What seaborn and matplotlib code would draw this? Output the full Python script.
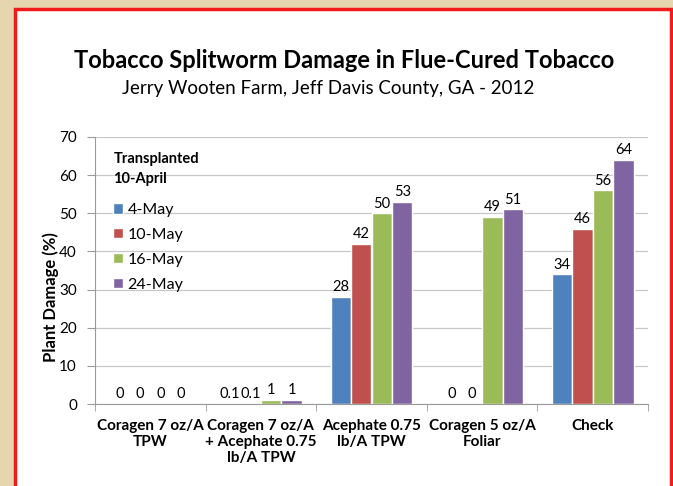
import pandas as pd
import matplotlib.pyplot as plt
import seaborn as sns
from matplotlib.patches import Rectangle

# Data
treatments = ['Coragen 7 oz/A\nTPW', 'Coragen 7 oz/A\n+ Acephate 0.75\nlb/A TPW',
              'Acephate 0.75\nlb/A TPW', 'Coragen 5 oz/A\nFoliar', 'Check']
dates = ['4-May', '10-May', '16-May', '24-May']
may4 = [0, 0.1, 28, 0, 34]
may10 = [0, 0.1, 42, 0, 46]
may16 = [0, 1, 50, 49, 56]
may24 = [0, 1, 53, 51, 64]
colors = ['#4F81BD', '#C0504D', '#9BBB59', '#8064A2']

rows = []
for d, vals in zip(dates, [may4, may10, may16, may24]):
    for t, v in zip(treatments, vals):
        rows.append({'Treatment': t, 'Date': d, 'Damage': v})
df = pd.DataFrame(rows)

sns.set_style('white')
plt.rcParams['font.family'] = ['Lato', 'DejaVu Sans']
plt.rcParams['text.color'] = 'black'
plt.rcParams['xtick.color'] = 'black'
plt.rcParams['ytick.color'] = 'black'
plt.rcParams['axes.labelcolor'] = 'black'

fig = plt.figure(figsize=(6.73, 4.86), dpi=100)
fig.patch.set_facecolor('#E6D6B0')
# white slide panel with red border
fig.patches.append(Rectangle((15 / 673, -0.05), 656 / 673, 1.05 - 9 / 486,
                             transform=fig.transFigure, facecolor='white',
                             edgecolor='#EE1C1C', linewidth=2.5, zorder=-10))

ax = fig.add_axes([95 / 673, 1 - 404 / 486, 553 / 673, 267 / 486])
ax.set_zorder(1)
sns.barplot(data=df, x='Treatment', y='Damage', hue='Date', order=treatments,
            hue_order=dates, palette=colors, width=0.74, saturation=1, ax=ax)

for cont, vals in zip(ax.containers, [may4, may10, may16, may24]):
    ax.bar_label(cont, labels=[f'{v:g}' for v in vals], padding=2, fontsize=10.5)

ax.set_ylim(0, 70)
ax.set_yticks(range(0, 71, 10))
ax.yaxis.grid(True, color='#C8C8C8', linewidth=0.9)
ax.set_axisbelow(True)
for s in ['top', 'right']:
    ax.spines[s].set_visible(False)
for s in ['left', 'bottom']:
    ax.spines[s].set_color('#9A9A9A')
ax.tick_params(axis='y', left=True, length=6, pad=7, color='#9A9A9A', labelsize=11)
ax.set_xticks([i + 0.5 for i in range(-1, 5)], minor=True)
ax.tick_params(axis='x', which='major', bottom=False, labelsize=11, pad=7)
ax.tick_params(axis='x', which='minor', bottom=True, length=5, color='#9A9A9A')
for lbl in ax.get_xticklabels():
    lbl.set_fontweight('bold')
ax.set_xlabel('')
ax.set_ylabel('Plant Damage (%)', fontsize=12, fontweight='bold')
ax.yaxis.set_label_coords(-0.065, 0.40)

leg = ax.legend(title='Transplanted\n10-April', loc='upper left',
                bbox_to_anchor=(0.01, 0.99), frameon=False, fontsize=11.5,
                handlelength=0.6, handleheight=0.6, handletextpad=0.3,
                labelspacing=0.68, borderpad=0.3)
leg.get_title().set_fontweight('bold')
leg.get_title().set_fontsize(10.5)
leg.get_title().set_linespacing(1.55)
leg._legend_box.align = 'left'
leg._legend_box.sep = 12

fig.text(0.512, 1 - 60 / 486, 'Tobacco Splitworm Damage in Flue-Cured Tobacco',
         ha='center', va='center', fontsize=17, fontweight='bold')
fig.text(0.488, 1 - 88 / 486, 'Jerry Wooten Farm, Jeff Davis County, GA - 2012',
         ha='center', va='center', fontsize=13.5)

fig.savefig('out.png', dpi=100, facecolor=fig.get_facecolor())
